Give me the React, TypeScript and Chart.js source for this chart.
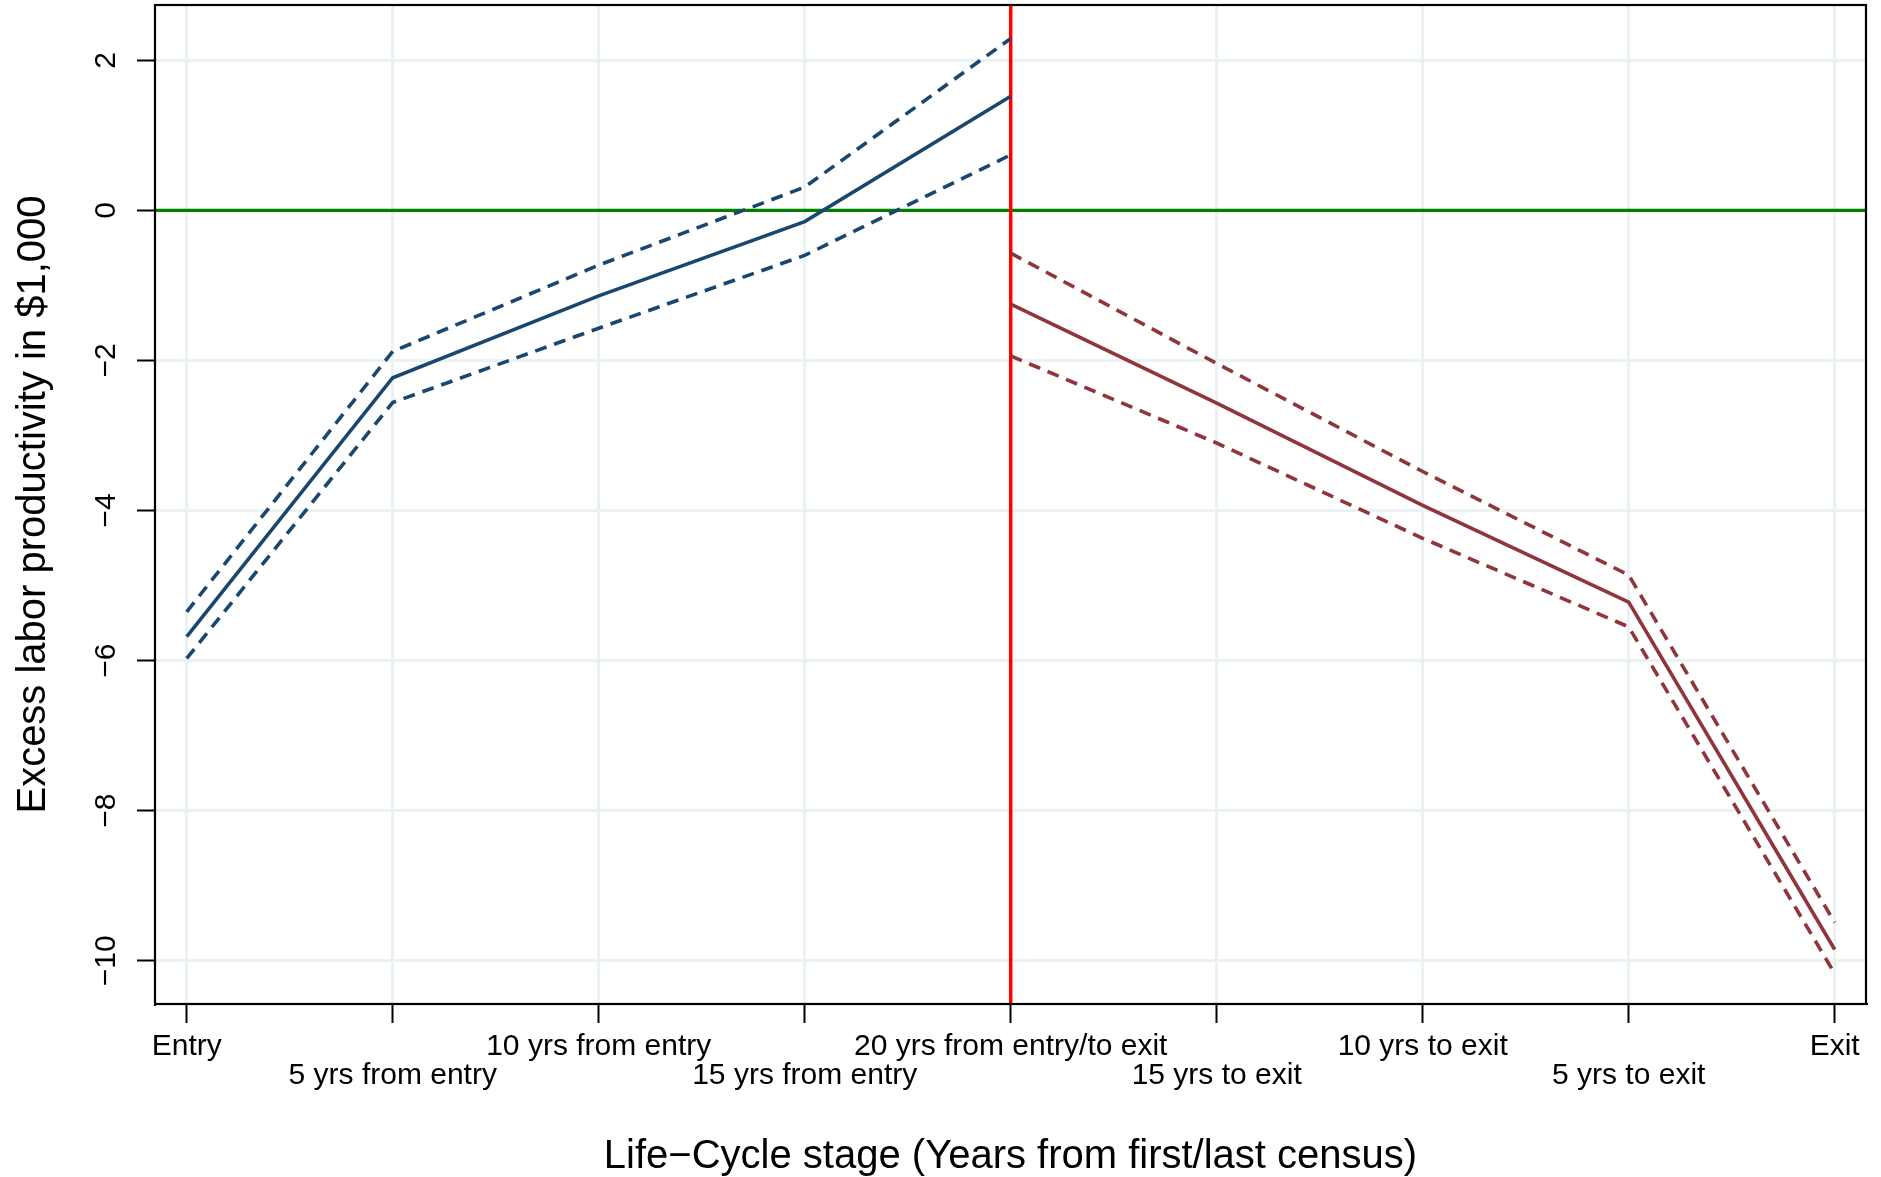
import React, { useEffect, useRef } from 'react';
import { Chart, registerables } from 'chart.js';

Chart.register(...registerables);

const stageLabels = [
  'Entry',
  '5 yrs from entry',
  '10 yrs from entry',
  '15 yrs from entry',
  '20 yrs from entry/to exit',
  '15 yrs to exit',
  '10 yrs to exit',
  '5 yrs to exit',
  'Exit',
];

const entryStages = [0, 1, 2, 3, 4];
const entryEstimate = [-5.68, -2.23, -1.14, -0.15, 1.52];
const entryUpper = [-5.35, -1.88, -0.73, 0.31, 2.29];
const entryLower = [-5.97, -2.56, -1.57, -0.6, 0.74];

const exitStages = [4, 5, 6, 7, 8];
const exitEstimate = [-1.25, -2.57, -3.93, -5.22, -9.85];
const exitUpper = [-0.57, -2.04, -3.48, -4.86, -9.49];
const exitLower = [-1.94, -3.1, -4.37, -5.55, -10.17];

const yTickValues = [-10, -8, -6, -4, -2, 0, 2];
const zeroLineValue = 0;
const splitStageValue = 4;

const NAVY = '#1a476f';
const MAROON = '#90353b';
const GRID = '#eaf2f3';
const FONT = '"Liberation Sans", Arial, Helvetica, sans-serif';

function pts(xs: number[], ys: number[]) {
  return xs.map((x, i) => ({ x, y: ys[i] }));
}

function minusFmt(v: number) {
  return v < 0 ? '\u2212' + Math.abs(v) : String(v);
}

export default function App() {
  const ref = useRef<HTMLCanvasElement>(null);

  useEffect(() => {
    const canvas = ref.current;
    if (!canvas) return;

    const refLines = {
      id: 'refLines',
      beforeDatasetsDraw(chart: any) {
        const { ctx, chartArea, scales } = chart;
        const y0 = scales.y.getPixelForValue(zeroLineValue);
        const xs = scales.x.getPixelForValue(splitStageValue);
        ctx.save();
        ctx.beginPath();
        ctx.rect(chartArea.left, chartArea.top, chartArea.right - chartArea.left, chartArea.bottom - chartArea.top);
        ctx.clip();
        ctx.lineCap = 'butt';
        ctx.strokeStyle = '#008000';
        ctx.lineWidth = 3.2;
        ctx.beginPath();
        ctx.moveTo(chartArea.left, y0);
        ctx.lineTo(chartArea.right, y0);
        ctx.stroke();
        ctx.strokeStyle = '#ff0000';
        ctx.lineWidth = 3.5;
        ctx.beginPath();
        ctx.moveTo(xs, chartArea.top);
        ctx.lineTo(xs, chartArea.bottom);
        ctx.stroke();
        ctx.restore();
      },
    };

    const frame = {
      id: 'frame',
      afterDraw(chart: any) {
        const { ctx, chartArea } = chart;
        ctx.save();
        ctx.strokeStyle = '#000';
        ctx.lineWidth = 2.2;
        ctx.strokeRect(chartArea.left, chartArea.top, chartArea.right - chartArea.left, chartArea.bottom - chartArea.top);
        ctx.restore();
      },
    };

    const solid = { borderWidth: 3.6, pointRadius: 0, tension: 0, fill: false, borderCapStyle: 'butt' as const };
    const dashed = { ...solid, borderDash: [12, 8] };

    const chart = new Chart(canvas, {
      type: 'line',
      data: {
        datasets: [
          { label: 'Entry upper', data: pts(entryStages, entryUpper), borderColor: NAVY, ...dashed },
          { label: 'Entry lower', data: pts(entryStages, entryLower), borderColor: NAVY, ...dashed },
          { label: 'Entry estimate', data: pts(entryStages, entryEstimate), borderColor: NAVY, ...solid },
          { label: 'Exit upper', data: pts(exitStages, exitUpper), borderColor: MAROON, ...dashed },
          { label: 'Exit lower', data: pts(exitStages, exitLower), borderColor: MAROON, ...dashed },
          { label: 'Exit estimate', data: pts(exitStages, exitEstimate), borderColor: MAROON, ...solid },
        ],
      },
      options: {
        animation: false,
        responsive: false,
        devicePixelRatio: 1,
        layout: { padding: { top: 5, right: 15, bottom: 0, left: 0 } },
        plugins: { legend: { display: false }, tooltip: { enabled: false } },
        scales: {
          x: {
            type: 'linear',
            min: -0.154,
            max: 8.152,
            afterBuildTicks: (s: any) => {
              s.ticks = stageLabels.map((_, i) => ({ value: i }));
            },
            afterFit: (s: any) => {
              s.height = 173;
              s.paddingLeft = 0;
              s.paddingRight = 0;
            },
            grid: {
              color: GRID,
              lineWidth: 3,
              tickColor: '#000',
              tickWidth: 2,
              tickLength: 19,
              drawOnChartArea: true,
            },
            border: { display: true, color: '#000', width: 2 },
            ticks: {
              autoSkip: false,
              maxRotation: 0,
              minRotation: 0,
              padding: 9.5,
              color: '#000',
              font: { family: FONT, size: 30, lineHeight: 0.97 },
              callback: (v: any) => {
                const i = Math.round(Number(v));
                const lab = stageLabels[i];
                if (lab === undefined) return '';
                return i % 2 === 0 ? lab : ['', lab];
              },
            },
            title: {
              display: true,
              text: 'Life\u2212Cycle stage (Years from first/last census)',
              color: '#000',
              font: { family: FONT, size: 40, lineHeight: 1 },
              padding: { top: 0, bottom: 0.5 },
            },
          },
          y: {
            type: 'linear',
            min: -10.576,
            max: 2.737,
            afterBuildTicks: (s: any) => {
              s.ticks = yTickValues.map((v) => ({ value: v }));
            },
            afterFit: (s: any) => {
              s.width = 155;
              s.paddingTop = 0;
              s.paddingBottom = 0;
            },
            grid: {
              color: GRID,
              lineWidth: 3,
              tickColor: '#000',
              tickWidth: 2,
              tickLength: 18,
              drawOnChartArea: true,
            },
            border: { display: true, color: '#000', width: 2 },
            ticks: {
              autoSkip: false,
              minRotation: 90,
              maxRotation: 90,
              crossAlign: 'center',
              padding: 5,
              color: '#000',
              font: { family: FONT, size: 30, lineHeight: 1 },
              callback: (v: any) => minusFmt(Number(v)),
            },
            title: {
              display: true,
              text: 'Excess labor productivity in $1,000',
              color: '#000',
              font: { family: FONT, size: 40, lineHeight: 1 },
              padding: { top: 13.5, bottom: 0 },
            },
          },
        },
      },
      plugins: [refLines, frame],
    } as any);

    return () => chart.destroy();
  }, []);

  return (
    <div style={{ position: 'fixed', left: 0, top: 0, width: 1881, height: 1177, background: '#fff' }}>
      <canvas ref={ref} width={1881} height={1177} style={{ display: 'block', width: 1881, height: 1177 }} />
    </div>
  );
}
